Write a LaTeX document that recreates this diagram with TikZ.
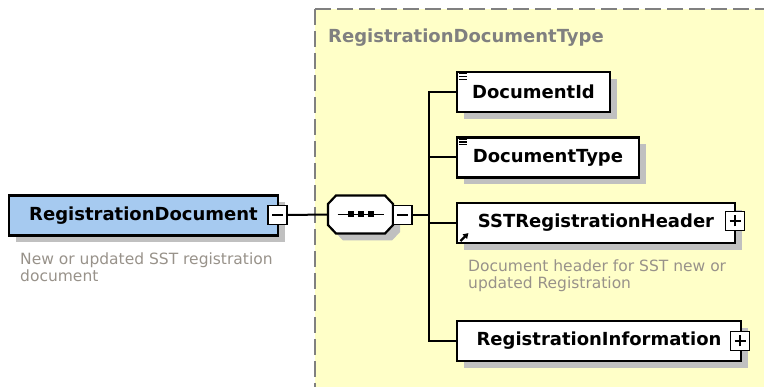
\documentclass[tikz,border=0pt]{standalone}
\usepackage{fontspec}
\setmainfont{DejaVu Sans}
\usetikzlibrary{shadows,arrows.meta}
\definecolor{rootblue}{RGB}{166,202,240}
\definecolor{grpyellow}{RGB}{255,255,200}
\definecolor{shadowgray}{RGB}{192,192,192}
\definecolor{descgray}{RGB}{152,146,138}
\definecolor{grpgray}{RGB}{128,128,128}

\begin{document}
\begin{tikzpicture}[x=1pt,y=-1pt,
	elt/.style={draw=black, fill=white, line width=2.2pt, minimum height=40pt, inner xsep=6pt,
		font=\bfseries\fontsize{18}{20}\selectfont,
		general shadow={fill=shadowgray, shadow xshift=7pt, shadow yshift=-7pt}},
	xbox/.style={draw=black, fill=white, line width=1.6pt, minimum size=19pt, inner sep=0pt},
	minus/.style={xbox, path picture={\draw[line width=1.8pt]
		([xshift=-5.5pt]path picture bounding box.center) -- ([xshift=5.5pt]path picture bounding box.center);}},
	plus/.style={xbox, path picture={\draw[line width=1.8pt]
		([xshift=-5.5pt]path picture bounding box.center) -- ([xshift=5.5pt]path picture bounding box.center)
		([yshift=-5.5pt]path picture bounding box.center) -- ([yshift=5.5pt]path picture bounding box.center);}},
	seqbox/.style={minimum width=65pt, minimum height=38pt, inner sep=0pt},
	octagon/.style={line width=2.2pt, line join=miter},
	conn/.style={draw=black, line width=2pt},
	desc/.style={font=\fontsize{15.5}{17}\selectfont, text=descgray, align=left, inner sep=0pt, anchor=north west},
	grptitle/.style={font=\bfseries\fontsize{18}{20}\selectfont, text=grpgray, inner sep=0pt, anchor=base west}]
	\useasboundingbox (0,0) rectangle (764,387);

	\fill[grpyellow] (315,9) rectangle (780,400);
	\draw[grpgray, line width=1.5pt, dash pattern=on 16pt off 6pt] (315,9) -- (780,9);
	\draw[grpgray, line width=1.5pt, dash pattern=on 16pt off 6pt] (315,9) -- (315,400);
	\node[grptitle] (title) at (328,43) {RegistrationDocumentType};

	\node[elt, fill=rootblue, minimum width=269pt] (root) at (143.5,215.5) {RegistrationDocument};
	\node[minus] (rootx) at (277.5,215) {};
	\node[desc] (rootdesc) at (20,253) {New or updated SST registration\\document};

	\node[seqbox] (seq) at (360.5,214.5) {};
	\begin{scope}[shift={(seq.center)}]
		\fill[shadowgray, shift={(7,7)}] (-32.5,-10.5) -- (-24.5,-19) -- (24.5,-19) -- (32.5,-10.5)
			-- (32.5,10.5) -- (24.5,19) -- (-24.5,19) -- (-32.5,10.5) -- cycle;
		\filldraw[octagon, fill=white] (-32.5,-10.5) -- (-24.5,-19) -- (24.5,-19) -- (32.5,-10.5)
			-- (32.5,10.5) -- (24.5,19) -- (-24.5,19) -- (-32.5,10.5) -- cycle;
		\draw[line width=1.5pt] (-23,0) -- (23,0);
		\foreach \dx in {-10,0,10}
			\fill (\dx-3,-3) rectangle ++(6,6);
	\end{scope}
	\node[minus] (seqx) at (402.5,215) {};
	\coordinate (fork) at (429,215);

	\node[elt, minimum width=153pt] (docid) at (533.5,92) {DocumentId};
	\node[elt, minimum width=182pt] (doctype) at (548,157.5) {DocumentType};
	\node[elt, minimum width=278pt] (header) at (596,223) {SSTRegistrationHeader};
	\node[plus] (headerx) at (735,221) {};
	\node[desc] (headerdesc) at (468,260) {Document header for SST new or\\updated Registration};
	\node[elt, minimum width=284pt] (info) at (599,341) {RegistrationInformation};
	\node[plus] (infox) at (740,341) {};

	\foreach \n in {docid,doctype}
		\foreach \k in {0,1,2}
			\draw[line width=1.1pt] ([shift={(3.5,3+2.6*\k)}]\n.north west) -- ++(8,0);
	\draw[line width=2.2pt, -{Triangle[length=5pt,width=6pt]}] ([shift={(4.5,-3)}]header.south west) -- ++(8,-8);

	\draw[conn] (rootx.east) -- (seq.west);
	\draw[conn] (seqx.east) -- (fork);
	\draw[conn] (fork) |- (docid.west);
	\draw[conn] (fork) |- (doctype.west);
	\draw[conn] (fork) |- (header.west);
	\draw[conn] (fork) |- (info.west);
\end{tikzpicture}
\end{document}
